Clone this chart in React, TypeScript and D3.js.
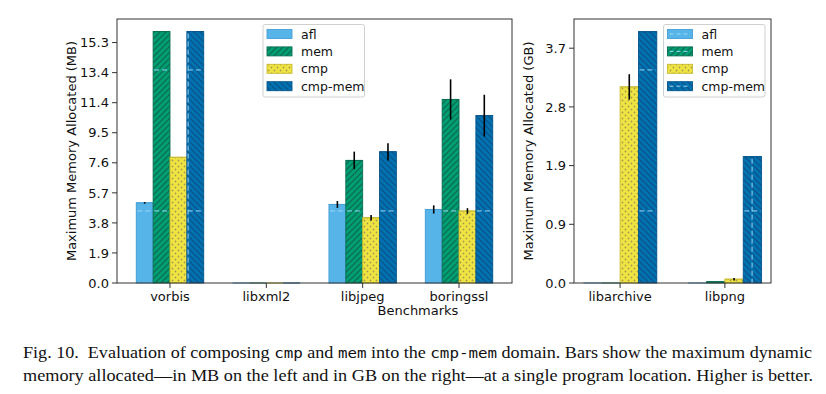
import React from 'react';
import * as d3 from 'd3';

// series and benchmarks
const seriesNames = ['afl', 'mem', 'cmp', 'cmp-mem'];
const leftBenchmarks = ['vorbis', 'libxml2', 'libjpeg', 'boringssl'];
const rightBenchmarks = ['libarchive', 'libpng'];

// left panel, MB (one value per benchmark)
const leftAfl = [5.1, 0, 5.0, 4.68];
const leftMem = [16.0, 0, 7.8, 11.68];
const leftCmp = [8.0, 0, 4.15, 4.58];
const leftCmpMem = [16.0, 0, 8.35, 10.65];
const leftAflErr = [0.05, 0, 0.22, 0.26];
const leftMemErr = [0, 0, 0.56, 1.28];
const leftCmpErr = [0, 0, 0.17, 0.18];
const leftCmpMemErr = [0, 0, 0.55, 1.33];

// right panel, GB
const rightAfl = [0, 0];
const rightMem = [0, 0.02];
const rightCmp = [3.09, 0.06];
const rightCmpMem = [3.96, 1.99];
const rightAflErr = [0, 0];
const rightMemErr = [0, 0];
const rightCmpErr = [0.2, 0.02];
const rightCmpMemErr = [0, 0];

const leftTickLabels = ['0.0', '1.9', '3.8', '5.7', '7.6', '9.5', '11.4', '13.4', '15.3'];
const rightTickLabels = ['0.0', '0.9', '1.9', '2.8', '3.7'];
const leftTickMax = 15.3;
const rightTickMax = 3.7;

const fills: Record<string, string> = {
  afl: '#56b4e9',
  mem: '#009e73',
  cmp: '#f0e442',
  'cmp-mem': '#0072b2',
};
const edges: Record<string, string> = {
  afl: '#4a9fd6',
  mem: '#0b6f53',
  cmp: '#c8bc33',
  'cmp-mem': '#0a568a',
};
const patternOf: Record<string, string> = {
  afl: '#56b4e9',
  mem: 'url(#hatchMem)',
  cmp: 'url(#dotsCmp)',
  'cmp-mem': 'url(#hatchCmpMem)',
};

const FONT = "'DejaVu Sans', sans-serif";
const TOP = 19;
const BOTTOM = 283;
const BAR_W = 0.175;
const SEAM_ROWS = [0.273, 0.807];

interface PanelProps {
  left: number;
  right: number;
  benchmarks: string[];
  values: number[][];
  errors: number[][];
  yMax: number;
  tickMax: number;
  tickLabels: string[];
  xPad: number;
  yLabel: string;
  vSeam: number;
  legendX: number;
  legendSeams: boolean;
}

const Panel: React.FC<PanelProps> = (p) => {
  const x = d3.scaleLinear().domain([-p.xPad, p.benchmarks.length - 1 + p.xPad]).range([p.left, p.right]);
  const y = d3.scaleLinear().domain([0, p.yMax]).range([BOTTOM, TOP]);
  const step = p.tickMax / (p.tickLabels.length - 1);
  const seamX = p.left + p.vSeam * (p.right - p.left);

  const bars: React.ReactNode[] = [];
  p.benchmarks.forEach((b, i) => {
    seriesNames.forEach((s, j) => {
      const v = p.values[j][i];
      const e = p.errors[j][i];
      const x0 = x(i + (j - 2) * BAR_W);
      const x1 = x(i + (j - 1) * BAR_W);
      const yt = y(v);
      bars.push(
        <g key={`${b}-${s}`}>
          <rect x={x0} y={yt} width={x1 - x0} height={BOTTOM - yt} fill={fills[s]} />
          <rect x={x0} y={yt} width={x1 - x0} height={BOTTOM - yt} fill={patternOf[s]}
            stroke={edges[s]} strokeWidth={0.9} />
          <line x1={x0} x2={x1} y1={yt} y2={yt} stroke={edges[s]} strokeWidth={1} />
          {s !== 'cmp' && SEAM_ROWS.map((f, k) => {
            const ry = BOTTOM - f * (BOTTOM - TOP);
            return ry > yt + 2 ? (
              <line key={k} x1={x0 + 1} x2={x1 - 1} y1={ry} y2={ry} stroke="#9ad6f7"
                strokeWidth={1} strokeDasharray="5,3" />
            ) : null;
          })}
          {s === 'cmp-mem' && seamX > x0 && seamX < x1 && (
            <line x1={seamX} x2={seamX} y1={yt + 2} y2={BOTTOM} stroke="#9ad6f7"
              strokeWidth={1} strokeDasharray="5,3" />
          )}
          {e > 0 && (
            <line x1={(x0 + x1) / 2} x2={(x0 + x1) / 2} y1={y(v + e)} y2={y(v - e)}
              stroke="#000" strokeWidth={1.6} />
          )}
        </g>
      );
    });
  });

  const lx = p.legendX;
  return (
    <g>
      {bars}
      {/* frame */}
      <rect x={p.left} y={TOP} width={p.right - p.left} height={BOTTOM - TOP} fill="none"
        stroke="#333" strokeWidth={1} />
      {/* y ticks */}
      {p.tickLabels.map((t, k) => (
        <g key={t + k}>
          <line x1={p.left - 5} x2={p.left} y1={y(k * step)} y2={y(k * step)} stroke="#333" />
          <text x={p.left - 8} y={y(k * step)} dy="0.36em" textAnchor="end" fontSize={13}
            fontFamily={FONT} fill="#111">{t}</text>
        </g>
      ))}
      {/* x ticks */}
      {p.benchmarks.map((b, i) => (
        <g key={b}>
          <line x1={x(i)} x2={x(i)} y1={BOTTOM} y2={BOTTOM + 5} stroke="#333" />
          <text x={x(i)} y={301} textAnchor="middle" fontSize={13} fontFamily={FONT} fill="#111">{b}</text>
        </g>
      ))}
      <text transform={`translate(${p.left - 41},${(TOP + BOTTOM) / 2}) rotate(-90)`} textAnchor="middle"
        fontSize={13} fontFamily={FONT} fill="#111">{p.yLabel}</text>
      {/* legend */}
      <rect x={lx} y={24.5} width={101.5} height={72.5} rx={2} fill="#fff" fillOpacity={0.85}
        stroke="#d0d0d0" />
      {seriesNames.map((s, k) => {
        const cy = 34 + k * 17.4;
        return (
          <g key={s}>
            <rect x={lx + 4} y={cy - 4.5} width={25} height={9} fill={fills[s]} />
            <rect x={lx + 4} y={cy - 4.5} width={25} height={9} fill={patternOf[s]} stroke={edges[s]}
              strokeWidth={0.9} />
            {p.legendSeams && s !== 'cmp' && (
              <line x1={lx + 6} x2={lx + 27} y1={cy} y2={cy} stroke="#9ad6f7" strokeDasharray="4,3" />
            )}
            <text x={lx + 38} y={cy} dy="0.36em" fontSize={12.5} fontFamily={FONT} fill="#111">{s}</text>
          </g>
        );
      })}
    </g>
  );
};

const App: React.FC = () => {
  return (
    <svg width={826} height={394} style={{ position: 'absolute', left: 0, top: 0, background: '#fff' }}>
      <defs>
        <pattern id="hatchMem" patternUnits="userSpaceOnUse" width={6} height={6}>
          <path d="M-1,1 l2,-2 M0,6 l6,-6 M5,7 l2,-2" stroke="#0b6f53" strokeWidth={1.3} />
        </pattern>
        <pattern id="hatchCmpMem" patternUnits="userSpaceOnUse" width={6} height={6}>
          <path d="M-1,5 l2,2 M0,0 l6,6 M5,-1 l2,2" stroke="#0a568a" strokeWidth={1.3} />
        </pattern>
        <pattern id="dotsCmp" patternUnits="userSpaceOnUse" width={6} height={6}>
          <circle cx={1.5} cy={1.5} r={0.9} fill="#a49a4a" />
          <circle cx={4.5} cy={4.5} r={0.9} fill="#a49a4a" />
        </pattern>
      </defs>
      <rect width={826} height={394} fill="#fff" />
      <Panel
        left={117}
        right={512}
        benchmarks={leftBenchmarks}
        values={[leftAfl, leftMem, leftCmp, leftCmpMem]}
        errors={[leftAflErr, leftMemErr, leftCmpErr, leftCmpMemErr]}
        yMax={16.8}
        tickMax={leftTickMax}
        tickLabels={leftTickLabels}
        xPad={0.55}
        yLabel="Maximum Memory Allocated (MB)"
        vSeam={0.18}
        legendX={263}
        legendSeams={false}
      />
      <Panel
        left={574}
        right={771}
        benchmarks={rightBenchmarks}
        values={[rightAfl, rightMem, rightCmp, rightCmpMem]}
        errors={[rightAflErr, rightMemErr, rightCmpErr, rightCmpMemErr]}
        yMax={4.16}
        tickMax={rightTickMax}
        tickLabels={rightTickLabels}
        xPad={0.44}
        yLabel="Maximum Memory Allocated (GB)"
        vSeam={0.904}
        legendX={663.5}
        legendSeams={true}
      />
      <text x={418} y={315} textAnchor="middle" fontSize={13} fontFamily={FONT} fill="#111">Benchmarks</text>
      {/* caption */}
      <text x={23} y={358} fontSize={16} fontFamily="'Liberation Serif', serif" fill="#111"
        textLength={789} lengthAdjust="spacingAndGlyphs">
        Fig. 10.{'\u00a0\u00a0'}Evaluation of composing <tspan fontFamily="'DejaVu Sans Mono', monospace" fontSize={14}>cmp</tspan> and <tspan fontFamily="'DejaVu Sans Mono', monospace" fontSize={14}>mem</tspan> into the <tspan fontFamily="'DejaVu Sans Mono', monospace" fontSize={14}>cmp-mem</tspan> domain. Bars show the maximum dynamic
      </text>
      <text x={23} y={381} fontSize={16} fontFamily="'Liberation Serif', serif" fill="#111"
        textLength={790} lengthAdjust="spacingAndGlyphs">
        memory allocated—in MB on the left and in GB on the right—at a single program location. Higher is better.
      </text>
    </svg>
  );
};

export default App;
